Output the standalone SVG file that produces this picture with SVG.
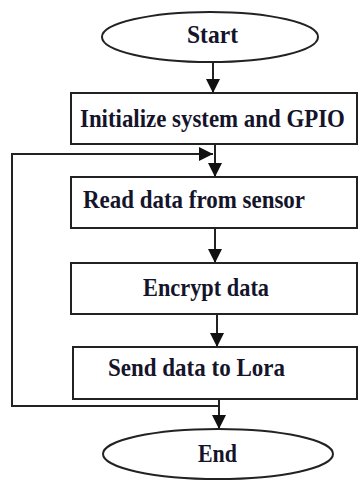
<svg xmlns="http://www.w3.org/2000/svg" width="359" height="482" viewBox="0 0 359 482">
<style>
.shape{fill:#fff;stroke:#222;stroke-width:2}
.line{fill:none;stroke:#222;stroke-width:2}
.t{font-family:"Liberation Serif","Times New Roman",serif;font-weight:bold;font-size:25px;fill:#14142a}
</style>
<defs>
<marker id="ahd" viewBox="0 0 12 14" refX="14" refY="7" markerWidth="14" markerHeight="14" markerUnits="userSpaceOnUse" orient="auto">
<path d="M0,0 L14,7 L0,14 Z" fill="#111"/>
</marker>
</defs>
<rect width="359" height="482" fill="#fff"/>
<g id="connectors">
<line class="line" x1="213" y1="62" x2="213" y2="93" marker-end="url(#ahd)"/>
<line class="line" x1="215" y1="144" x2="215" y2="177" marker-end="url(#ahd)"/>
<polyline class="line" points="219,406 12,406 12,154 213,154" marker-end="url(#ahd)"/>
<line class="line" x1="215" y1="228" x2="215" y2="263" marker-end="url(#ahd)"/>
<line class="line" x1="217" y1="314" x2="217" y2="347" marker-end="url(#ahd)"/>
<line class="line" x1="219" y1="399" x2="219" y2="429" marker-end="url(#ahd)"/>
</g>
<g id="start">
<ellipse class="shape" cx="210" cy="37" rx="108" ry="25"/>
<text class="t" x="187" y="43" textLength="51" lengthAdjust="spacingAndGlyphs">Start</text>
</g>
<g id="init">
<rect class="shape" x="71" y="93" width="286" height="51"/>
<text class="t" transform="translate(80,127) scale(0.915,1)" x="0" y="0">Initialize system and GPIO</text>
</g>
<g id="read">
<rect class="shape" x="71" y="177" width="286" height="51"/>
<text class="t" x="83" y="208" textLength="222" lengthAdjust="spacingAndGlyphs">Read data from sensor</text>
</g>
<g id="encrypt">
<rect class="shape" x="71" y="263" width="286" height="51"/>
<text class="t" x="143" y="296" textLength="126" lengthAdjust="spacingAndGlyphs">Encrypt data</text>
</g>
<g id="send">
<rect class="shape" x="73" y="347" width="284" height="52"/>
<text class="t" x="108" y="376" textLength="177" lengthAdjust="spacingAndGlyphs">Send data to Lora</text>
</g>
<g id="end">
<ellipse class="shape" cx="218" cy="454" rx="115" ry="25"/>
<text class="t" x="198" y="462" textLength="39" lengthAdjust="spacingAndGlyphs">End</text>
</g>
</svg>
